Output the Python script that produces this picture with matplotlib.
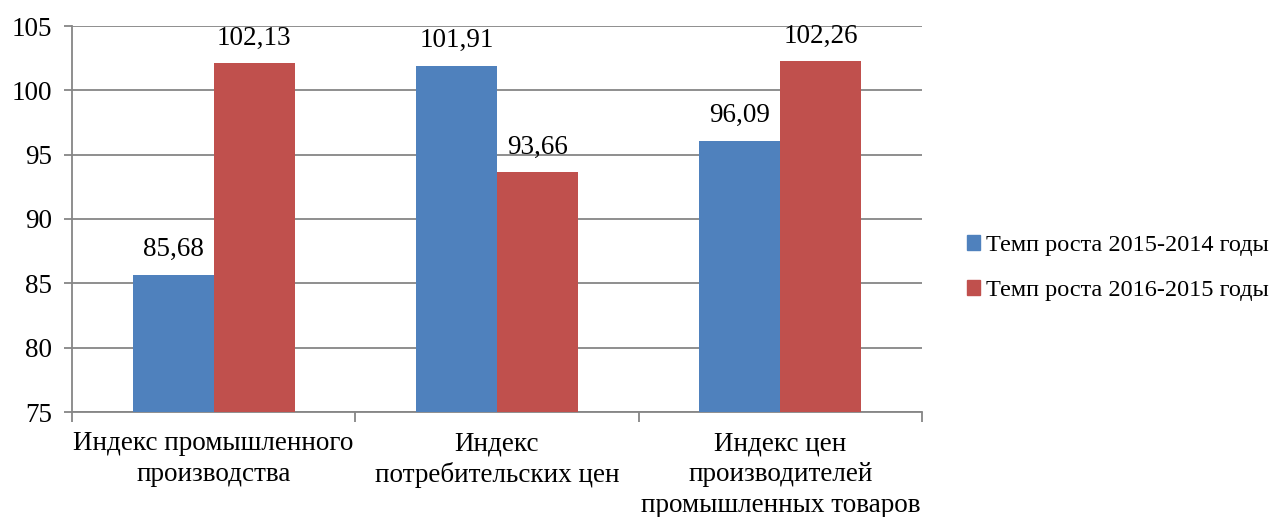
import numpy as np
import matplotlib.pyplot as plt
from matplotlib.patches import Patch

# ====== DATA ======
categories = ['Индекс промышленного\nпроизводства',
              'Индекс\nпотребительских цен',
              'Индекс цен\nпроизводителей\nпромышленных товаров']
series_names = ['Темп роста 2015-2014 годы', 'Темп роста 2016-2015 годы']
growth_2015 = [85.68, 101.91, 96.09]
growth_2016 = [102.13, 93.66, 102.26]
# ==================

blue = '#4F81BD'
red = '#C0504D'
grid_color = '#868686'

plt.rcParams['font.family'] = ['Liberation Serif', 'DejaVu Serif']
plt.rcParams['font.size'] = 19.5

fig = plt.figure(figsize=(12.71, 5.17), dpi=100)
ax = fig.add_axes([72 / 1271, 1 - 412 / 517, 850 / 1271, 386 / 517])

x = np.arange(len(categories))
w = 0.286
ax.bar(x - w / 2, growth_2015, w, bottom=0, color=blue, zorder=3)
ax.bar(x + w / 2, growth_2016, w, bottom=0, color=red, zorder=3)

for xs, vals in [(x - w / 2, growth_2015), (x + w / 2, growth_2016)]:
    for xi, v in zip(xs, vals):
        ax.annotate(f'{v:.2f}'.replace('.', ','), (xi, v), xytext=(0, 9),
                    textcoords='offset points', ha='center', va='bottom', fontsize=19.5)

ax.set_ylim(75, 105)
ax.set_xlim(-0.5, len(categories) - 0.5)
ax.set_yticks(np.arange(75, 106, 5))
ax.yaxis.grid(True, color=grid_color, linewidth=1.3, zorder=0)
ax.tick_params(axis='y', length=6, width=1.3, color=grid_color, pad=8.5, labelsize=19.5)

ax.set_xticks(x)
ax.set_xticklabels(categories, linespacing=1.3)
ax.tick_params(axis='x', which='major', length=0, pad=14, labelsize=19.5)
ax.set_xticks(np.arange(-0.5, len(categories), 1), minor=True)
ax.tick_params(axis='x', which='minor', length=7, width=1.3, color=grid_color)

for s in ['top', 'right']:
    ax.spines[s].set_visible(False)
for s in ['left', 'bottom']:
    ax.spines[s].set_color(grid_color)
    ax.spines[s].set_linewidth(1.3)

handles = [Patch(color=blue), Patch(color=red)]
fig.legend(handles, series_names, loc='center left', bbox_to_anchor=(945 / 1271, 1 - 268 / 517),
           frameon=False, fontsize=17.5, handlelength=0.55, handleheight=0.55,
           handletextpad=0.25, labelspacing=1.0)

fig.savefig('out.png', dpi=100)
